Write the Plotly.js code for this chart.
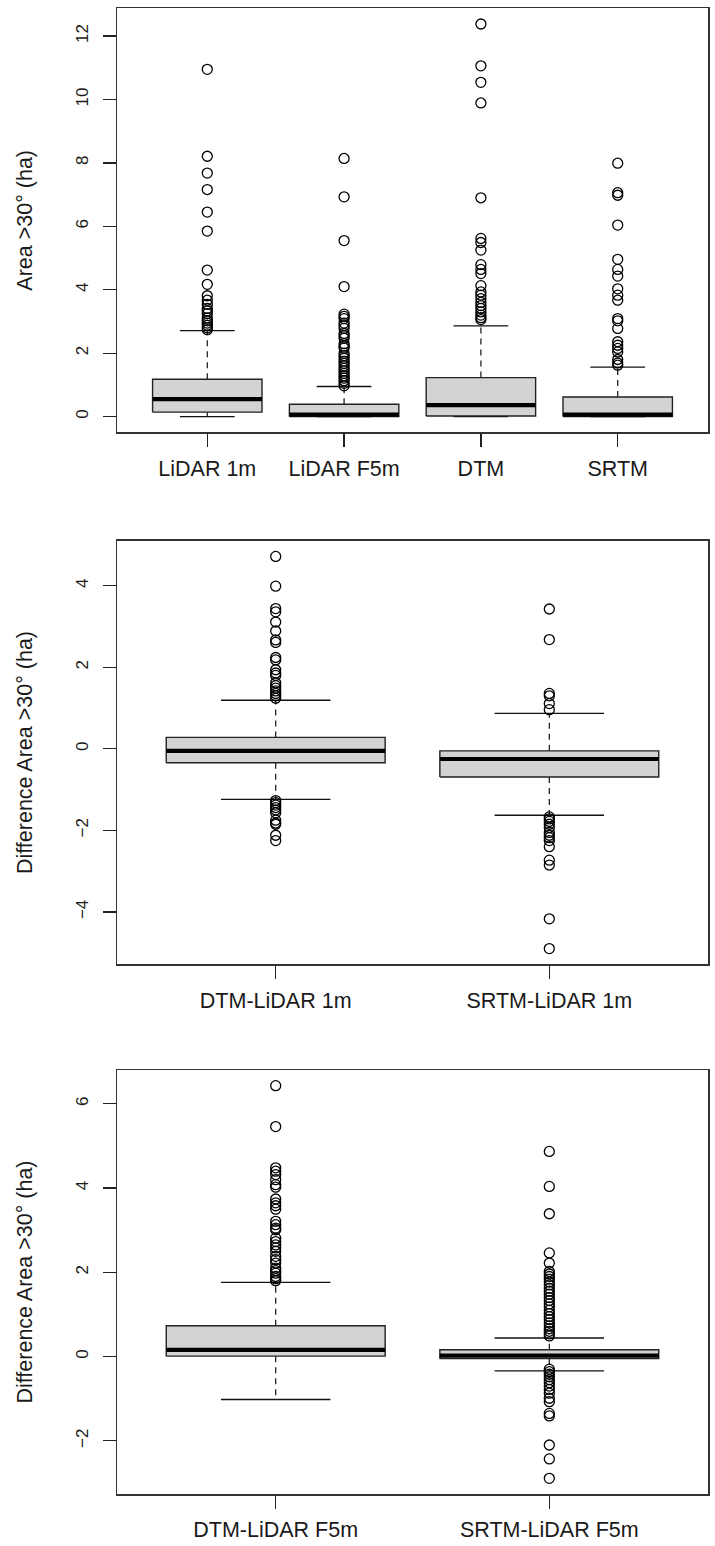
<!DOCTYPE html>
<html>
<head>
<meta charset="utf-8">
<script src="https://cdn.plot.ly/plotly-3.0.1.min.js"></script>
<style>html,body{margin:0;padding:0;background:#fff}</style>
</head>
<body>
<div id="chart" style="width:715px;height:1546px"></div>
<script>
// ---- Panel 1: area steeper than 30° per elevation source (ha) ----
const groupsA = ["LiDAR 1m", "LiDAR F5m", "DTM", "SRTM"];
const q1A  = [0.14, 0.00, 0.02, 0.00];
const medA = [0.55, 0.06, 0.36, 0.06];
const q3A  = [1.18, 0.39, 1.23, 0.62];
const loA  = [0.00, 0.00, 0.00, 0.00];
const hiA  = [2.71, 0.95, 2.86, 1.56];
const outLidar1m = [10.95, 8.21, 7.68, 7.16, 6.45, 5.85, 4.62, 4.17, 3.81, 3.67, 3.54, 3.41, 3.33, 3.25, 3.11, 3.02, 2.95, 2.88, 2.80, 2.74];
const outLidarF5m = [8.14, 6.93, 5.55, 4.10, 3.23, 3.16, 3.09, 2.95, 2.87, 2.78, 2.62, 2.55, 2.47, 2.30, 2.22, 2.16, 2.00, 1.92, 1.84, 1.75, 1.68, 1.60, 1.52, 1.44, 1.36, 1.28, 1.21, 1.13, 1.05, 0.97];
const outDtm = [12.38, 11.06, 10.54, 9.89, 6.90, 5.62, 5.49, 5.25, 4.79, 4.64, 4.51, 4.13, 3.93, 3.83, 3.72, 3.60, 3.50, 3.41, 3.30, 3.20, 3.12, 3.06];
const outSrtm = [7.99, 7.06, 6.98, 6.04, 4.96, 4.64, 4.43, 4.03, 3.83, 3.67, 3.09, 3.02, 2.78, 2.36, 2.25, 2.15, 2.04, 1.80, 1.69, 1.62];

// ---- Panel 2: differences against LiDAR 1m (ha) ----
const groupsB = ["DTM-LiDAR 1m", "SRTM-LiDAR 1m"];
const q1B  = [-0.34, -0.69];
const medB = [-0.05, -0.25];
const q3B  = [0.28, -0.05];
const loB  = [-1.24, -1.63];
const hiB  = [1.19, 0.87];
const outDtmL1 = [4.72, 3.99, 3.44, 3.36, 3.11, 2.89, 2.67, 2.61, 2.24, 2.18, 1.94, 1.86, 1.80, 1.62, 1.55, 1.49, 1.42, 1.36, 1.30, 1.24,
                  -1.27, -1.32, -1.38, -1.44, -1.50, -1.57, -1.75, -1.82, -1.85, -2.12, -2.25];
const outSrtmL1 = [3.43, 2.68, 1.36, 1.30, 1.11, 0.96,
                   -1.67, -1.72, -1.78, -1.85, -1.93, -2.05, -2.12, -2.18, -2.25, -2.40, -2.73, -2.85, -4.17, -4.90];

// ---- Panel 3: differences against LiDAR F5m (ha) ----
const groupsC = ["DTM-LiDAR F5m", "SRTM-LiDAR F5m"];
const q1C  = [0.01, -0.05];
const medC = [0.16, 0.02];
const q3C  = [0.73, 0.16];
const loC  = [-1.02, -0.34];
const hiC  = [1.76, 0.44];
const outDtmF5 = [6.43, 5.46, 4.48, 4.40, 4.32, 4.20, 4.08, 4.02, 3.74, 3.65, 3.58, 3.50, 3.21, 3.13, 3.05, 3.01, 2.81, 2.73, 2.65, 2.58,
                  2.50, 2.38, 2.30, 2.22, 2.10, 2.04, 1.98, 1.90, 1.85, 1.80];
const outSrtmF5 = [4.87, 4.04, 3.39, 2.46, 2.22, 2.02, 1.96, 1.90, 1.84, 1.77, 1.70, 1.62, 1.55, 1.48, 1.40, 1.33, 1.25, 1.18, 1.10, 1.02,
                   0.95, 0.88, 0.80, 0.73, 0.66, 0.60, 0.54, 0.49,
                   -0.30, -0.36, -0.42, -0.48, -0.55, -0.62, -0.70, -0.78, -0.87, -0.99, -1.07, -1.35, -1.41, -2.10, -2.43, -2.89];

const titleA = "Area >30° (ha)";
const titleB = "Difference Area >30° (ha)";
const titleC = "Difference Area >30° (ha)";

// ---- drawing helpers (base-graphics style boxplot) ----
const FONT = "Liberation Sans, Arial, Helvetica, sans-serif";
const HALF_BOX = 0.4, HALF_STAPLE = 0.2;

function panelTraces(k, q1, med, q3, lo, hi, outs) {
  const xa = k === 1 ? "x" : "x" + k, ya = k === 1 ? "y" : "y" + k;
  const wx = [], wy = [], sx = [], sy = [], bx = [], by = [], mx = [], my = [], ox = [], oy = [];
  q1.forEach((_, i) => {
    const c = i + 1;
    wx.push(c, c, null, c, c, null);
    wy.push(q3[i], hi[i], null, q1[i], lo[i], null);
    sx.push(c - HALF_STAPLE, c + HALF_STAPLE, null, c - HALF_STAPLE, c + HALF_STAPLE, null);
    sy.push(hi[i], hi[i], null, lo[i], lo[i], null);
    bx.push(c - HALF_BOX, c + HALF_BOX, c + HALF_BOX, c - HALF_BOX, c - HALF_BOX, null);
    by.push(q1[i], q1[i], q3[i], q3[i], q1[i], null);
    mx.push(c - HALF_BOX, c + HALF_BOX, null);
    my.push(med[i], med[i], null);
    outs[i].forEach(v => { ox.push(c); oy.push(v); });
  });
  const base = {type: "scatter", xaxis: xa, yaxis: ya, hoverinfo: "skip", showlegend: false};
  return [
    Object.assign({}, base, {x: wx, y: wy, mode: "lines", line: {color: "#111", width: 1.2, dash: "6px,5px"}}),
    Object.assign({}, base, {x: sx, y: sy, mode: "lines", line: {color: "#111", width: 1.4}}),
    Object.assign({}, base, {x: bx, y: by, mode: "lines", fill: "toself", fillcolor: "#d3d3d3", line: {color: "#222", width: 1.4}}),
    Object.assign({}, base, {x: mx, y: my, mode: "lines", line: {color: "#000", width: 4.2}}),
    Object.assign({}, base, {x: ox, y: oy, mode: "markers",
      marker: {symbol: "circle-open", size: 10, color: "#000", line: {width: 1.3, color: "#000"}}})
  ];
}

function yRange(arrs) {
  const all = [].concat(...arrs);
  const lo = Math.min(...all), hi = Math.max(...all), pad = (hi - lo) * 0.04;
  return [lo - pad, hi + pad];
}

const W = 715, H = 1546, MT = 8, MB = 52, ML = 117, MR = 7;
const plotH = H - MT - MB;
function dom(top, bottom) { return [1 - (bottom - MT) / plotH, 1 - (top - MT) / plotH]; }

function xAxis(cats, anchor) {
  const n = cats.length, pad = n * 0.04;
  return {
    anchor: anchor, range: [0.5 - pad, n + 0.5 + pad],
    tickmode: "array", tickvals: cats.map((_, i) => i + 1), ticktext: cats,
    ticks: "outside", ticklen: 13, tickwidth: 1.3, tickcolor: "#222",
    showline: true, mirror: true, linecolor: "#333", linewidth: 1.5,
    showgrid: false, zeroline: false,
    tickfont: {family: FONT, size: 21.5, color: "#1a1a1a"}, ticklabelstandoff: 3
  };
}
function yAxis(range, domain, anchor, title) {
  return {
    anchor: anchor, domain: domain, range: range,
    tickmode: "linear", tick0: 0, dtick: 2,
    ticks: "outside", ticklen: 13, tickwidth: 1.3, tickcolor: "#222", tickangle: -90,
    showline: true, mirror: true, linecolor: "#333", linewidth: 1.5,
    showgrid: false, zeroline: false,
    tickfont: {family: FONT, size: 17, color: "#1a1a1a"}, ticklabelstandoff: 8,
    title: {text: title, font: {family: FONT, size: 21.5, color: "#1a1a1a"}, standoff: 34}
  };
}

const outsA = [outLidar1m, outLidarF5m, outDtm, outSrtm];
const outsB = [outDtmL1, outSrtmL1];
const outsC = [outDtmF5, outSrtmF5];

const traces = [].concat(
  panelTraces(1, q1A, medA, q3A, loA, hiA, outsA),
  panelTraces(2, q1B, medB, q3B, loB, hiB, outsB),
  panelTraces(3, q1C, medC, q3C, loC, hiC, outsC)
);

const layout = {
  width: W, height: H,
  margin: {l: ML, r: MR, t: MT, b: MB},
  paper_bgcolor: "#fff", plot_bgcolor: "#fff",
  font: {family: FONT, color: "#1a1a1a"},
  hovermode: false,
  xaxis:  xAxis(groupsA, "y"),
  xaxis2: xAxis(groupsB, "y2"),
  xaxis3: xAxis(groupsC, "y3"),
  yaxis:  yAxis(yRange([q1A, loA, hiA].concat(outsA)), dom(8.3, 432.3), "x", titleA),
  yaxis2: yAxis(yRange([q1B, loB, hiB].concat(outsB)), dom(540.7, 964.3), "x2", titleB),
  yaxis3: yAxis(yRange([q1C, loC, hiC].concat(outsC)), dom(1070, 1494), "x3", titleC)
};

Plotly.newPlot("chart", traces, layout, {staticPlot: true, displayModeBar: false});
</script>
</body>
</html>
